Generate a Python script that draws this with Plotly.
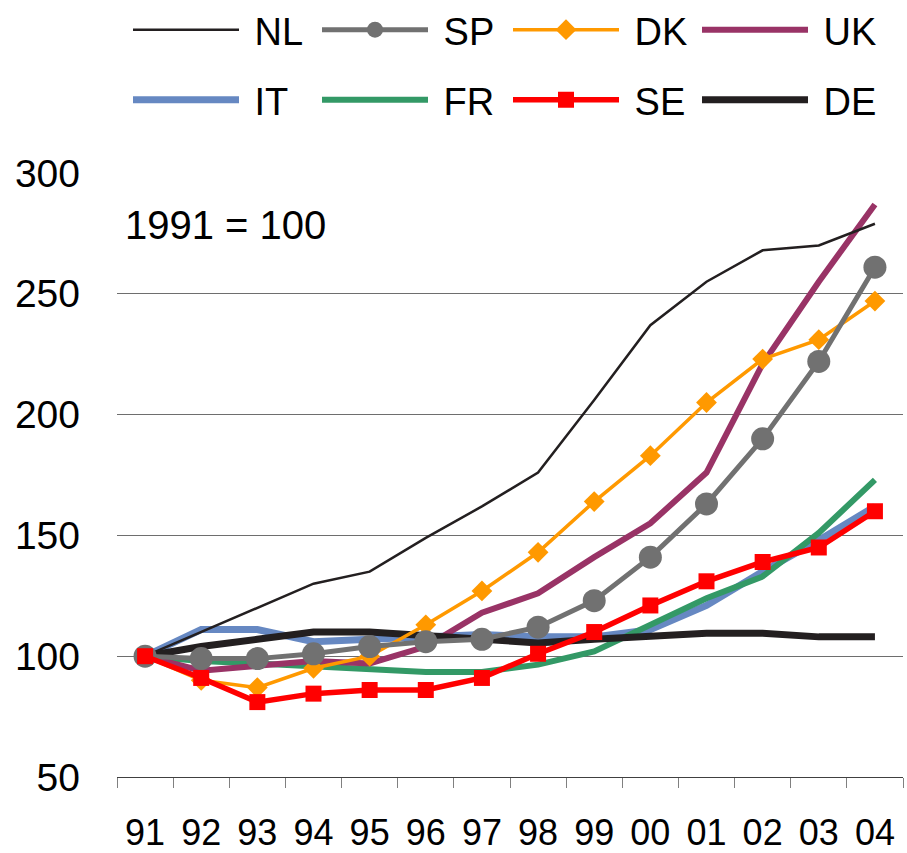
import plotly.graph_objects as go

years = ["91", "92", "93", "94", "95", "96", "97", "98", "99", "00", "01", "02", "03", "04"]

NL = [100, 110, 120, 130, 135, 149, 162, 176, 206, 237, 255, 268, 270, 279]
SP = [100, 99, 99, 101, 104, 106, 107, 112, 123, 141, 163, 190, 222, 261]
DK = [100, 90, 87, 95, 100, 113, 127, 143, 164, 183, 205, 223, 231, 247]
UK = [100, 94, 96, 98, 97, 104, 118, 126, 141, 155, 176, 221, 255, 287]
IT = [100, 111, 111, 106, 107, 108, 109, 108, 108, 111, 121, 135, 148, 162]
FR = [100, 98, 97, 96, 95, 93.5, 93.5, 96.5, 102, 113, 124, 133, 151, 173]
SE = [100, 91, 81, 84.5, 86, 86, 91, 101, 110, 121, 131, 139, 145, 160]
DE = [100, 104, 107, 110, 110, 108.5, 107, 105.5, 107, 108, 109.5, 109.5, 108, 108]

FONT = "Liberation Sans, Arial, sans-serif"

# legend slots: (legend id, column, row)
slots = {"NL": ("legend", 0, 0), "SP": ("legend2", 1, 0), "DK": ("legend3", 2, 0),
         "UK": ("legend4", 3, 0), "IT": ("legend5", 0, 1), "FR": ("legend6", 1, 1),
         "SE": ("legend7", 2, 1), "DE": ("legend8", 3, 1)}
col_x = [128, 317, 508, 697]      # px, left edge of each legend column
row_y = [30, 100]                 # px, vertical centre of each legend row

# (name, values, color, width, marker symbol, marker size)  -- drawing order
series = [
    ("IT", IT, "#6688C2", 7, None, 0),
    ("FR", FR, "#339966", 6, None, 0),
    ("UK", UK, "#993366", 6, None, 0),
    ("DE", DE, "#231F20", 7, None, 0),
    ("NL", NL, "#231F20", 2.5, None, 0),
    ("DK", DK, "#FF9900", 3.5, "diamond", 16),
    ("SP", SP, "#717171", 5, "circle", 23),
    ("SE", SE, "#FF0000", 5.5, "square", 16),
]

L, R, T, B = 117, 4, 173, 76
W, H = 907, 853
pw, ph = W - L - R, H - T - B

fig = go.Figure()
for name, vals, color, w, sym, ms in series:
    kw = dict(mode="lines")
    if sym:
        kw = dict(mode="lines+markers",
                  marker=dict(symbol=sym, size=ms, color=color, line=dict(width=0)))
    fig.add_trace(go.Scatter(x=years, y=vals, name="\u00a0" + name, legend=slots[name][0],
                             showlegend=True, line=dict(color=color, width=w), **kw))

legends = {}
for name, (lid, c, r) in slots.items():
    legends[lid] = dict(orientation="h", xref="paper", yref="paper",
                        x=(col_x[c] - L) / pw, y=(H - B - row_y[r]) / ph,
                        xanchor="left", yanchor="middle", itemwidth=106,
                        font=dict(size=38), bgcolor="rgba(0,0,0,0)", visible=True)

fig.update_layout(
    width=W, height=H, showlegend=True,
    margin=dict(l=L, r=R, t=T, b=B, autoexpand=False),
    paper_bgcolor="white", plot_bgcolor="white",
    font=dict(family=FONT, size=38, color="black"),
    xaxis=dict(type="category", range=[-0.5, len(years) - 0.5], tickson="boundaries",
               ticks="outside", ticklen=10,
               tickcolor="#808080", showline=True, linecolor="#404040", linewidth=1,
               showgrid=False, ticklabelstandoff=24, tickfont=dict(size=36),
               automargin=False),
    yaxis=dict(range=[50, 300], dtick=50, showgrid=True, gridcolor="#6e6e6e", gridwidth=1,
               zeroline=False, showline=False, ticks="", ticklabelstandoff=36,
               tickfont=dict(size=39), automargin=False),
    annotations=[dict(text="1991 = 100", xref="paper", yref="paper",
                      x=(123 - L) / pw, y=(H - B - 225) / ph, xanchor="left",
                      yanchor="middle", showarrow=False, font=dict(size=40))],
    **legends,
)

fig.write_html("out.html", config={"displayModeBar": False},
               post_script="document.body.style.margin='0px';")
